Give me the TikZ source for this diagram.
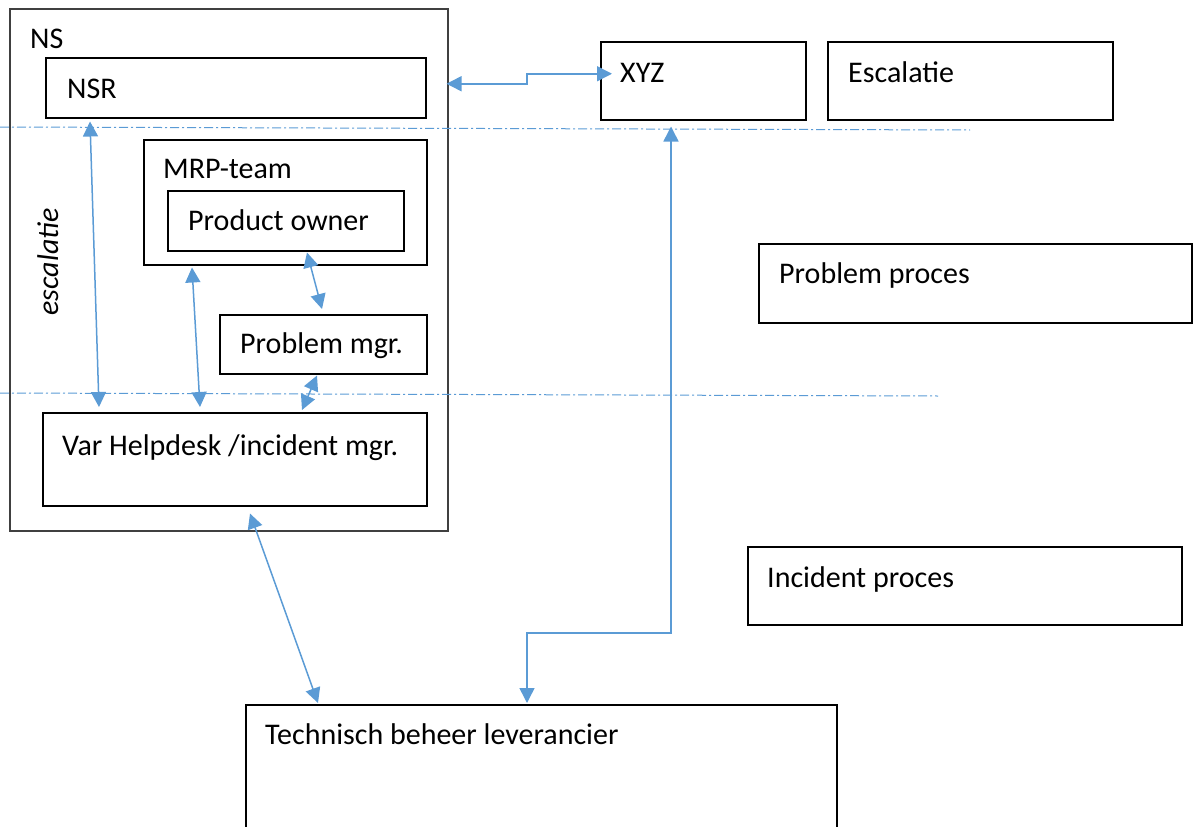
\documentclass[tikz,border=0pt]{standalone}
\usepackage{fontspec}
\setmainfont{Carlito}
\usetikzlibrary{arrows.meta,calc}
\definecolor{cblue}{HTML}{5B9BD5}
\definecolor{cgray}{HTML}{404040}
\begin{document}
\begin{tikzpicture}[x=1pt,y=-1pt,
  box/.style={draw=black,line width=1.5pt,inner sep=0pt,anchor=north west},
  outerbox/.style={draw=cgray,line width=2pt,inner sep=0pt,anchor=north west},
  lbl/.style={anchor=base west,inner sep=0pt,font=\fontsize{30pt}{34pt}\selectfont},
  conn/.style={draw=cblue,line width=1.5pt,{Triangle[length=15pt,width=15pt]}-{Triangle[length=15pt,width=15pt]}},
  sep/.style={draw=cblue,line width=1pt,dash pattern=on 9pt off 3pt on 2pt off 3pt}]
\useasboundingbox (0,0) rectangle (1200,827);
\clip (0,0) rectangle (1200,827);
% boxes
\node[outerbox,minimum width=438pt,minimum height=522pt] (ns) at (9,8) {};
\node[box,minimum width=380pt,minimum height=60pt] (nsr) at (45,57) {};
\node[box,minimum width=205pt,minimum height=78pt] (xyz) at (600,41) {};
\node[box,minimum width=285pt,minimum height=78pt] (esc) at (827,41) {};
\node[box,minimum width=283pt,minimum height=125pt] (mrp) at (143,139) {};
\node[box,minimum width=236pt,minimum height=60pt] (po) at (167,190) {};
\node[box,minimum width=207pt,minimum height=59pt] (pm) at (219,314) {};
\node[box,minimum width=384pt,minimum height=93pt] (hd) at (42,412) {};
\node[box,minimum width=433pt,minimum height=79pt] (pp) at (758,243) {};
\node[box,minimum width=434pt,minimum height=78pt] (ip) at (747,546) {};
\node[box,minimum width=591pt,minimum height=140pt] (tb) at (245,704) {};
% labels
\node[lbl] (tns) at (30,48) {NS};
\node[lbl] (tnsr) at (67,98) {NSR};
\node[lbl] (txyz) at (620,82) {XYZ};
\node[lbl] (tesc) at (848,82) {Escalatie};
\node[lbl] (tmrp) at (163,178) {MRP-team};
\node[lbl] (tpo) at (188,230) {Product owner};
\node[lbl] (tpm) at (240,353) {Problem mgr.};
\node[lbl] (thd) at (62,455) {Var Helpdesk /incident mgr.};
\node[lbl] (tpp) at (779,283) {Problem proces};
\node[lbl] (tip) at (767,587) {Incident proces};
\node[lbl] (ttb) at (265,744) {Technisch beheer leverancier};
\node[font=\fontsize{30pt}{34pt}\selectfont\itshape,rotate=90,inner sep=0pt,anchor=base] (tesc2) at (58,262) {escalatie};
% separators
\draw[sep] (0,127) -- (970,130);
\draw[sep] (0,393) -- (938,396);
% connector end points
\coordinate (a1) at ([xshift=20pt,yshift=4pt]nsr.east);
\coordinate (a2) at ([xshift=12pt,yshift=7pt]xyz.west);
\coordinate (sx) at (527,0);
\coordinate (b1) at ([xshift=71pt,yshift=-6pt]xyz.south west);
\coordinate (b2) at ([xshift=282pt,yshift=1pt]tb.north west);
\coordinate (cy) at (0,633);
% connectors
\draw[conn] (a1) -- (a1 -| sx) -- (a2 -| sx) -- (a2);
\draw[conn] ([xshift=45pt,yshift=-3pt]nsr.south west) -- ([xshift=57pt,yshift=5pt]hd.north west);
\draw[conn] ([xshift=49pt,yshift=-2pt]mrp.south west) -- ([xshift=158pt,yshift=5pt]hd.north west);
\draw[conn] ([xshift=140pt,yshift=-1pt]po.south west) -- ([xshift=103pt,yshift=5pt]pm.north west);
\draw[conn] ([xshift=98pt,yshift=-1pt]pm.south west) -- ([xshift=260pt,yshift=2pt]hd.north west);
\draw[conn] ([xshift=208pt,yshift=-7pt]hd.south west) -- ([xshift=73pt,yshift=1pt]tb.north west);
\draw[conn] (b1) -- (b1 |- cy) -- (b2 |- cy) -- (b2);
\end{tikzpicture}
\end{document}
